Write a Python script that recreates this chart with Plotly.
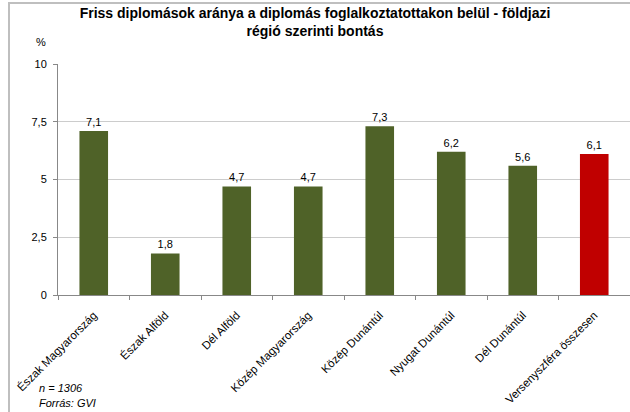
import plotly.graph_objects as go

categories = ["Észak Magyarország", "Észak Alföld", "Dél Alföld", "Közép Magyarország",
              "Közép Dunántúl", "Nyugat Dunántúl", "Dél Dunántúl", "Versenyszféra összesen"]
values = [7.1, 1.8, 4.7, 4.7, 7.3, 6.2, 5.6, 6.1]
value_labels = ["7,1", "1,8", "4,7", "4,7", "7,3", "6,2", "5,6", "6,1"]
bar_colors = ["#4F6228"] * 7 + ["#C00000"]
y_tickvals = [0, 2.5, 5, 7.5, 10]
y_ticktext = ["0", "2,5", "5", "7,5", "10"]

FONT = "Liberation Sans, Arial, sans-serif"
L, T, B = 58, 64, 117
PW, PH = 630 - L, 412 - T - B


def px(x):
    return (x - L) / PW


def py(y):
    return (412 - B - y) / PH


fig = go.Figure(go.Bar(
    x=categories, y=values, marker=dict(color=bar_colors, line=dict(width=0)),
    text=value_labels, textposition="outside", cliponaxis=False,
    textfont=dict(family=FONT, size=11, color="#000000"),
))

annotations = [
    # chart frame: a bordered empty box whose top and left edges fall inside the page
    dict(text=" ", xref="paper", yref="paper", x=px(8), y=py(2), xanchor="left", yanchor="top",
         width=700, height=480, showarrow=False, bordercolor="#bfbfbf", borderwidth=2,
         borderpad=0, bgcolor="rgba(0,0,0,0)", font=dict(size=2)),
    dict(text="%", xref="paper", yref="paper", x=px(41), y=py(42),
         showarrow=False, font=dict(family=FONT, size=11), xanchor="center", yanchor="middle"),
    dict(text="<i>n = 1306</i>", xref="paper", yref="paper", x=px(37), y=py(388),
         showarrow=False, font=dict(family=FONT, size=11), xanchor="left", yanchor="middle"),
    dict(text="<i>Forrás: GVI</i>", xref="paper", yref="paper", x=px(37), y=py(403),
         showarrow=False, font=dict(family=FONT, size=11), xanchor="left", yanchor="middle"),
]

fig.update_layout(
    width=630, height=412,
    margin=dict(l=L, r=0, t=T, b=B, autoexpand=False),
    paper_bgcolor="white", plot_bgcolor="white",
    bargap=0.6, showlegend=False,
    font=dict(family=FONT, size=11, color="#000000"),
    title=dict(text="<b>Friss diplomások aránya a diplomás foglalkoztatottakon belül - földjazi<br>régió szerinti bontás</b>",
               x=0.5, xanchor="center", y=1 - 18 / 412, yanchor="top", automargin=False,
               font=dict(family=FONT, size=14, color="#000000")),
    xaxis=dict(showline=True, linecolor="#888888", linewidth=1, tickangle=-45,
               ticks="outside", ticklen=4, tickcolor="#888888", tickson="boundaries",
               ticklabelstandoff=8,
               tickfont=dict(family=FONT, size=11.5), showgrid=False, automargin=False),
    yaxis=dict(range=[0, 10], tickvals=y_tickvals, ticktext=y_ticktext,
               showline=True, linecolor="#888888", linewidth=1,
               ticks="outside", ticklen=4, tickcolor="#888888", ticklabelstandoff=4,
               showgrid=True, gridcolor="#cccccc", gridwidth=1, zeroline=False,
               tickfont=dict(family=FONT, size=11), automargin=False),
    annotations=annotations,
)

fig.write_html("out.html", config={"displayModeBar": False},
               post_script="document.body.style.margin='0';document.body.style.overflow='hidden';")
